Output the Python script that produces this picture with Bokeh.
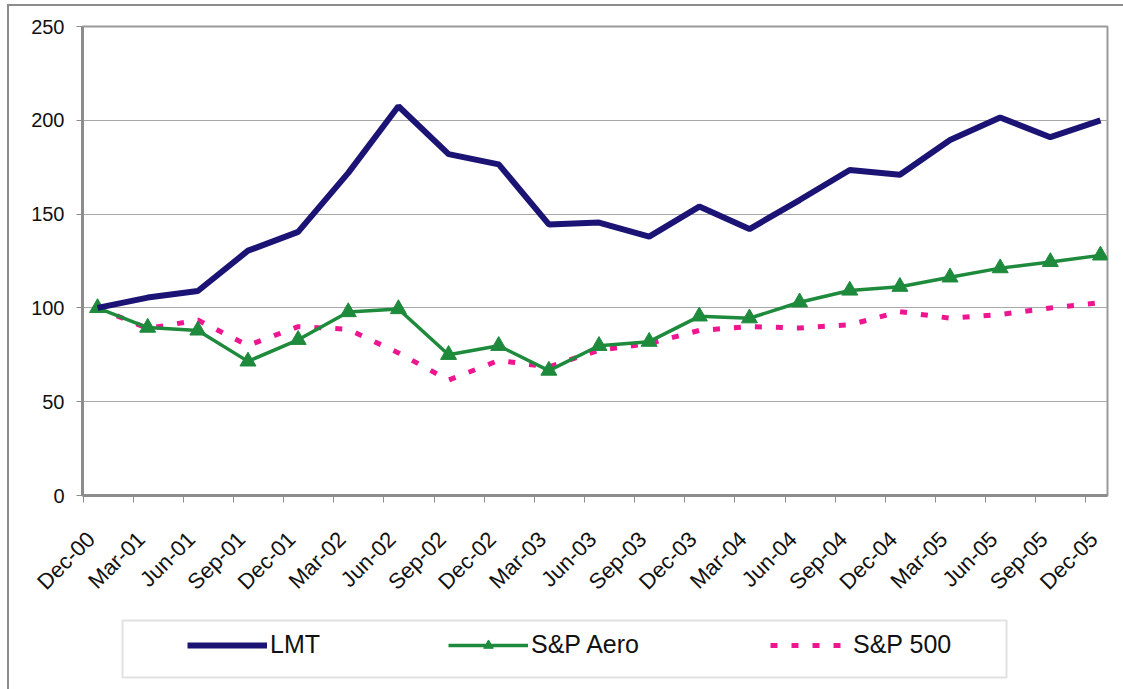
import math
from bokeh.plotting import figure
from bokeh.layouts import column
from bokeh.models import (Range1d, FixedTicker, Legend, LegendItem, LinearAxis,
                          ColumnDataSource, BoxAnnotation)
from bokeh.embed import file_html
from bokeh.resources import INLINE

# ---- data ----
dates = ["Dec-00", "Mar-01", "Jun-01", "Sep-01", "Dec-01", "Mar-02", "Jun-02",
         "Sep-02", "Dec-02", "Mar-03", "Jun-03", "Sep-03", "Dec-03", "Mar-04",
         "Jun-04", "Sep-04", "Dec-04", "Mar-05", "Jun-05", "Sep-05", "Dec-05"]
lmt = [100, 105.5, 109, 130.5, 140.5, 172, 207.5, 182, 176.5, 144.5, 145.5,
       138, 154, 142, 157.5, 173.5, 171, 189.5, 201.5, 191, 200]
sp_aero = [100, 89.5, 88, 71.5, 83, 97.8, 99.4, 75, 79.8, 66.6, 79.8, 82,
           95.5, 94.5, 103, 109.3, 111.3, 116.3, 121.2, 124.5, 128]
sp500 = [100, 89, 93.5, 80, 90, 88.6, 76, 61.5, 72, 68.5, 77.5, 81, 88, 90,
         89.3, 91, 98, 94.5, 96.5, 100, 102.8]
y_ticks = [0, 50, 100, 150, 200, 250]

idx = list(range(len(dates)))
src = ColumnDataSource(dict(x=idx, lmt=lmt, aero=sp_aero, sp=sp500))

FONT = "Liberation Sans Narrow, Liberation Sans, Arial, sans-serif"
C_LMT, C_AERO, C_SP = "#1c1474", "#1e8a3c", "#ee1690"
GRAY = "#8c8c8c"

# ---- main chart ----
p = figure(width=1114, height=600, output_backend="svg", toolbar_location=None,
           x_range=Range1d(-0.30, 20.14), y_range=Range1d(0, 250),
           x_axis_type=None,
           min_border_left=73, min_border_right=16, min_border_top=20,
           min_border_bottom=111)
p.background_fill_color = "white"
p.border_fill_color = "white"
p.outline_line_color = "#9a9a9a"
p.outline_line_width = 2

p.xgrid.grid_line_color = None
p.ygrid.grid_line_color = "#a8a8a8"
p.ygrid.grid_line_width = 1
p.ygrid.ticker = FixedTicker(ticks=y_ticks)

p.yaxis.ticker = FixedTicker(ticks=y_ticks)
p.yaxis.axis_line_color = GRAY
p.yaxis.axis_line_width = 3
p.yaxis.major_tick_line_color = GRAY
p.yaxis.major_tick_out = 6
p.yaxis.major_tick_in = 0
p.yaxis.minor_tick_line_color = None
p.yaxis.major_label_text_font = FONT
p.yaxis.major_label_text_font_size = "20px"
p.yaxis.major_label_text_color = "#111111"
p.yaxis.major_label_standoff = 12

# x axis with tick marks only
tick_pos = [i - 0.29 for i in idx]
ax_ticks = LinearAxis(ticker=FixedTicker(ticks=tick_pos),
                      axis_line_color=GRAY, axis_line_width=3,
                      major_tick_line_color=GRAY, major_tick_out=7,
                      major_tick_in=0, minor_tick_line_color=None,
                      major_label_text_alpha=0, major_label_text_font_size="1px",
                      major_label_standoff=0)
p.add_layout(ax_ticks, "below")

# x axis with rotated category labels only
lab_pos = [i - 0.13 for i in idx]
ax_labels = LinearAxis(ticker=FixedTicker(ticks=lab_pos),
                       major_label_overrides={t: d for t, d in zip(lab_pos, dates)},
                       major_label_orientation=math.pi / 4,
                       axis_line_color=None, major_tick_line_color=None,
                       minor_tick_line_color=None,
                       major_label_text_font=FONT,
                       major_label_text_font_size="22px",
                       major_label_text_color="#111111",
                       major_label_standoff=27)
p.add_layout(ax_labels, "below")

r_sp = p.line("x", "sp", source=src, line_color=C_SP, line_width=5,
              line_dash="7 14")
r_aero = p.line("x", "aero", source=src, line_color=C_AERO, line_width=3.5)
r_aero_m = p.scatter("x", "aero", source=src, marker="triangle", size=16,
                     fill_color=C_AERO, line_color=C_AERO)
r_lmt = p.line("x", "lmt", source=src, line_color=C_LMT, line_width=6)

# ---- legend strip (frame aligned with the chart, in pixel units) ----
lg = figure(width=1114, height=83, output_backend="svg", toolbar_location=None,
            x_range=Range1d(0, 1025), y_range=Range1d(-1083, -1000),
            x_axis_type=None, y_axis_type=None,
            min_border_left=73, min_border_right=16, min_border_top=0,
            min_border_bottom=0)
lg.outline_line_color = None
lg.background_fill_color = "white"
lg.xgrid.grid_line_color = None
lg.ygrid.grid_line_color = None
lg.add_layout(BoxAnnotation(left=40, right=924, top=-1014, bottom=-1071,
                            fill_alpha=0, line_color="#9a9a9a", line_width=2))
l_lmt = lg.line("x", "lmt", source=src, line_color=C_LMT, line_width=6)
l_aero = lg.line("x", "aero", source=src, line_color=C_AERO, line_width=3.5)
l_aero_m = lg.scatter("x", "aero", source=src, marker="triangle", size=16,
                      fill_color=C_AERO, line_color=C_AERO)
l_sp = lg.line("x", "sp", source=src, line_color=C_SP, line_width=5,
               line_dash="7 14")

def make_legend(label, rends, vx):
    leg = Legend(items=[LegendItem(label=label, renderers=rends)],
                 location=(vx, 30), padding=0, margin=0, spacing=0,
                 glyph_width=80, glyph_height=24, label_height=24,
                 label_standoff=3, border_line_color=None,
                 background_fill_alpha=0,
                 label_text_font=FONT, label_text_font_size="25px",
                 label_text_color="#111111")
    lg.add_layout(leg, "center")

make_legend("LMT", [l_lmt], 105)
make_legend("S&P Aero", [l_aero, l_aero_m], 366)
make_legend("S&P 500", [l_sp], 688)

layout = column(p, lg, spacing=0,
                styles={"border-left": "2px solid #8c8c8c",
                        "border-top": "2px solid #8c8c8c",
                        "margin-left": "7px", "margin-top": "4px"})

open("out.html", "w").write(file_html(layout, INLINE))
